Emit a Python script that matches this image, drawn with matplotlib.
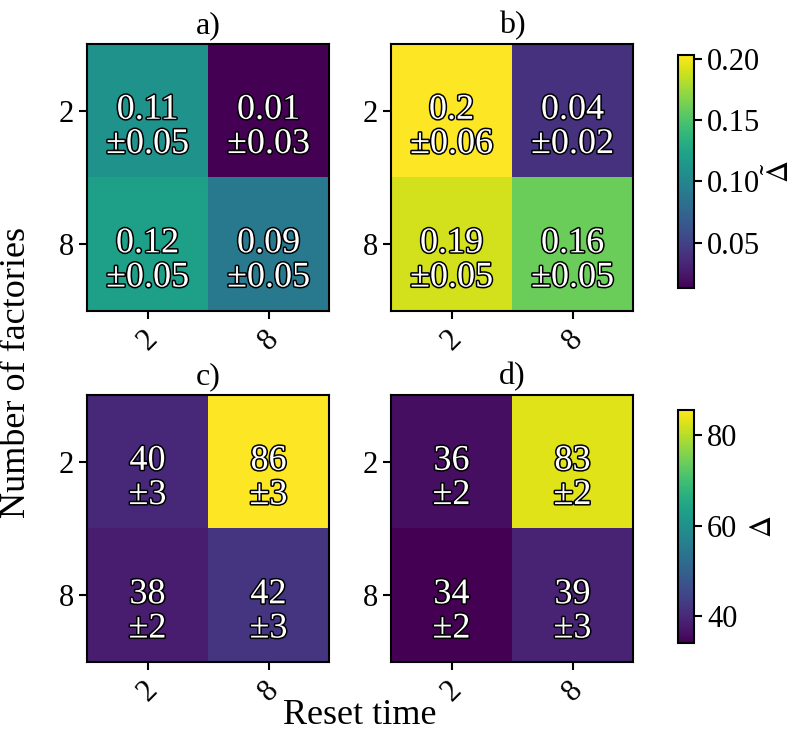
import matplotlib
matplotlib.use("Agg")
import matplotlib.pyplot as plt
import matplotlib.patheffects as pe
import numpy as np

# data
reset_times = ["2", "8"]
factories = ["2", "8"]

# rows = number of factories (2, 8), cols = reset time (2, 8)
delta_tilde_a = [[0.11, 0.013], [0.12, 0.09]]
delta_tilde_a_err = [[0.05, 0.03], [0.05, 0.05]]
delta_tilde_b = [[0.203, 0.04], [0.19, 0.16]]
delta_tilde_b_err = [[0.06, 0.02], [0.05, 0.05]]

delta_c = [[40, 85.6], [38, 42]]
delta_c_err = [[3, 3], [2, 3]]
delta_d = [[36, 83], [34, 39]]
delta_d_err = [[2, 2], [2, 3]]

plt.rcParams["font.family"] = ["Liberation Serif", "DejaVu Serif"]
plt.rcParams["mathtext.fontset"] = "stix"
plt.rcParams["font.size"] = 22
plt.rcParams["axes.linewidth"] = 1.5

W, H = 797, 739
fig = plt.figure(figsize=(W / 100, H / 100), dpi=100)


def px(x0, y0, x1, y1):
    return [x0 / W, 1 - y1 / H, (x1 - x0) / W, (y1 - y0) / H]


def fmt_small(v):
    return str(round(v, 2))


def fmt_big(v):
    return str(int(round(v)))


def draw_panel(rect, vals, errs, title, vmin, vmax, fmt):
    ax = fig.add_axes(rect)
    im = ax.imshow(np.array(vals), cmap="viridis", vmin=vmin, vmax=vmax, aspect="auto")
    ax.set_xticks(range(len(reset_times)))
    ax.set_xticklabels(reset_times, rotation=45)
    ax.set_yticks(range(len(factories)))
    ax.set_yticklabels(factories)
    ax.tick_params(length=6, width=1.5, labelsize=22)
    ax.set_title(title, fontsize=23, pad=8)
    for i in range(len(factories)):
        for j in range(len(reset_times)):
            # label sits a little below the cell centre, as in the original
            ax.annotate(f"{fmt(vals[i][j])}\n\u00b1{fmt(errs[i][j])}",
                        xy=(j, i), xytext=(0, -12), textcoords="offset points",
                        ha="center", va="center", color="white", fontsize=26,
                        linespacing=1.05,
                        path_effects=[pe.withStroke(linewidth=2.2, foreground="black")])
    return im


top_min = min(min(r) for r in delta_tilde_a + delta_tilde_b)
top_max = max(max(r) for r in delta_tilde_a + delta_tilde_b)
bot_min = min(min(r) for r in delta_c + delta_d)
bot_max = max(max(r) for r in delta_c + delta_d)

im_top = draw_panel(px(87, 44, 329, 311), delta_tilde_a, delta_tilde_a_err, "a)",
                    top_min, top_max, fmt_small)
draw_panel(px(391, 44, 633, 311), delta_tilde_b, delta_tilde_b_err, "b)",
           top_min, top_max, fmt_small)
im_bot = draw_panel(px(87, 395, 329, 662), delta_c, delta_c_err, "c)",
                    bot_min, bot_max, fmt_big)
draw_panel(px(391, 395, 633, 662), delta_d, delta_d_err, "d)",
           bot_min, bot_max, fmt_big)

cax1 = fig.add_axes(px(678, 55, 694, 288))
cb1 = fig.colorbar(im_top, cax=cax1)
cb1.set_ticks([0.05, 0.10, 0.15, 0.20])
cb1.set_ticklabels(["0.05", "0.10", "0.15", "0.20"])
cb1.set_label(r"$\tilde{\Delta}$", fontsize=22, labelpad=3)
cb1.outline.set_linewidth(1.5)
cax1.tick_params(length=6, width=1.5, labelsize=22)

cax2 = fig.add_axes(px(678, 410, 694, 643))
cb2 = fig.colorbar(im_bot, cax=cax2)
cb2.set_ticks([40, 60, 80])
cb2.set_label(r"$\Delta$", fontsize=22, labelpad=8)
cb2.outline.set_linewidth(1.5)
cax2.tick_params(length=6, width=1.5, labelsize=22)

fig.text(17 / W, 1 - 372 / H, "Number of factories", rotation=90,
         ha="center", va="center", fontsize=26)
fig.text(360 / W, 1 - 716 / H, "Reset time", ha="center", va="center", fontsize=26)

fig.savefig("out.png", dpi=100)
